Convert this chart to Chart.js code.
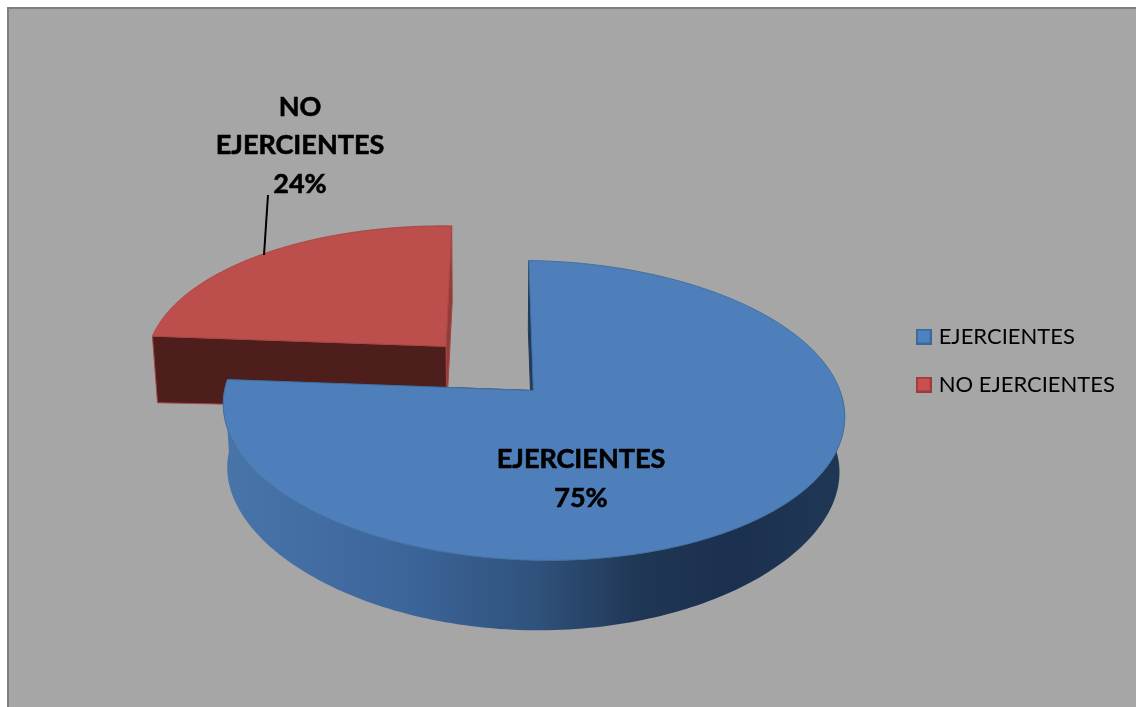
<!DOCTYPE html>
<html>
<head>
<meta charset="utf-8">
<script src="https://cdn.jsdelivr.net/npm/chart.js@4"></script>
<style>
  html, body { margin: 0; background: #fff; overflow: hidden; }
  #frame { position: absolute; left: 7px; top: 7px; width: 1129px; height: 700px; box-sizing: border-box;
           background: #a6a6a6; border-left: 2px solid #7f7f7f; border-top: 2px solid #7f7f7f; }
  #myChart { position: absolute; left: 0; top: 0; }
</style>
</head>
<body>
<div id="frame"></div>
<canvas id="myChart" width="1136" height="707"></canvas>
<script>
const categories = ["EJERCIENTES", "NO EJERCIENTES"];
const values = [75, 24];
const topColors = ["#4e7fbb", "#bc4f4c"];
const edgeColors = ["#41709f", "#a84643"];
const FONT = "Lato, 'Open Sans', sans-serif";

// legend squares have a darker rim, so they are small canvases
function marker(fill, rim) {
  const c = document.createElement("canvas");
  c.width = 16;
  c.height = 16;
  const g = c.getContext("2d");
  g.fillStyle = rim;
  g.fillRect(0, 0, 16, 16);
  g.fillStyle = fill;
  g.fillRect(2, 2, 12, 12);
  return c;
}
const markers = [marker("#4e81c0", "#3a6899"), marker("#c8504e", "#9c3b39")];

// Chart.js has no 3D pie, so the arcs are drawn through this projection
const pie3d = {
  id: "pie3d",
  afterLayout(chart, args, opts) {
    // legend sits above the pie's centre line in the reference
    const legend = chart.legend;
    legend.left += opts.legendShift[0];
    legend.right += opts.legendShift[0];
    legend.top += opts.legendShift[1];
    legend.bottom += opts.legendShift[1];
  },
  beforeDatasetDraw(chart, args, opts) {
    const arcs = chart.getDatasetMeta(0).data;
    const ctx = chart.ctx;
    ctx.save();
    ctx.lineJoin = "round";
    for (let i = arcs.length - 1; i >= 0; i--) {
      drawSlice(ctx, arcs[i], i, opts);
    }
    ctx.restore();
    drawLabels(ctx, opts);
    return false;
  },
};

function projector(arc, i, opts) {
  const R = arc.outerRadius;
  const mid = (arc.startAngle + arc.endAngle) / 2;
  const ou = Math.cos(mid) * opts.explode[i];
  const ov = Math.sin(mid) * opts.explode[i];
  return function (angle, radial, low) {
    const u = Math.cos(angle) * radial + ou;
    const v = Math.sin(angle) * radial + ov;
    const s = 1 / (1 - opts.persp * v);
    const x = arc.x + R * u * s + opts.shear * v * s;
    if (!low) return [x, arc.y + R * opts.flat * v * s + opts.roll * u * s];
    return [
      opts.vanish + (x - opts.vanish) * opts.lowScale,
      arc.y + opts.depth + (R * opts.lowFlat * v) / (1 - opts.lowPersp * v),
    ];
  };
}

function path(ctx, pts) {
  ctx.beginPath();
  pts.forEach((p, n) => (n ? ctx.lineTo(p[0], p[1]) : ctx.moveTo(p[0], p[1])));
  ctx.closePath();
}

function drawSlice(ctx, arc, i, opts) {
  const p = projector(arc, i, opts);
  const a0 = arc.startAngle;
  const a1 = arc.endAngle;
  const steps = 240;

  // cut faces
  const walls = opts.walls[i];
  [[a1, walls[1]], [a0, walls[0]]].forEach(([a, color]) => {
    path(ctx, [p(a, 0), p(a, 1), p(a, 1, true), p(a, 0, true)]);
    ctx.fillStyle = color;
    ctx.fill();
    ctx.strokeStyle = i ? edgeColors[i] : color;
    ctx.lineWidth = 1;
    ctx.stroke();
  });

  // outer rim, front half only
  const upper = [];
  const lower = [];
  for (let n = 0; n <= steps; n++) {
    const a = a0 + ((a1 - a0) * n) / steps;
    if (Math.sin(a) < 0) continue;
    upper.push(p(a, 1));
    lower.push(p(a, 1, true));
  }
  if (upper.length) {
    const grad = ctx.createLinearGradient(arc.x - 306, 0, arc.x + 306, 0);
    opts.rimStops.forEach(([t, c]) => grad.addColorStop(t, c));
    path(ctx, upper.concat(lower.reverse()));
    ctx.fillStyle = grad;
    ctx.fill();
  }

  // top face
  const top = [p(a0, 0)];
  for (let n = 0; n <= steps; n++) top.push(p(a0 + ((a1 - a0) * n) / steps, 1));
  path(ctx, top);
  ctx.fillStyle = topColors[i];
  ctx.fill();
  ctx.strokeStyle = edgeColors[i];
  ctx.lineWidth = 1;
  ctx.stroke();
}

function drawLabels(ctx, opts) {
  ctx.save();
  ctx.strokeStyle = "#000";
  ctx.lineWidth = 2;
  ctx.beginPath();
  ctx.moveTo(opts.leader[0], opts.leader[1]);
  ctx.lineTo(opts.leader[2], opts.leader[3]);
  ctx.stroke();
  ctx.fillStyle = "#000";
  ctx.lineWidth = 0.6;
  ctx.font = "bold " + opts.labelSize + "px " + FONT;
  ctx.textAlign = "center";
  ctx.textBaseline = "middle";
  opts.labels.forEach((lab, i) => {
    const lines = lab.lines.concat(values[i] + "%");
    lines.forEach((t, n) => {
      ctx.fillText(t, lab.x, lab.y + n * lab.step);
      ctx.strokeText(t, lab.x, lab.y + n * lab.step);
    });
  });
  ctx.restore();
}

const myChart = new Chart(document.getElementById("myChart"), {
  type: "pie",
  data: {
    labels: categories,
    datasets: [{ data: values, backgroundColor: topColors, radius: 308 }],
  },
  plugins: [pie3d],
  options: {
    responsive: false,
    animation: false,
    layout: { padding: { left: 162, top: 74, right: 0, bottom: 0 } },
    plugins: {
      tooltip: { enabled: false },
      legend: {
        position: "right",
        labels: {
          usePointStyle: true,
          pointStyleWidth: 8,
          padding: 26,
          color: "#000",
          font: { family: FONT, size: 22 },
          generateLabels: (chart) =>
            chart.data.labels.map((text, index) => ({
              text,
              index,
              pointStyle: markers[index],
              fontColor: "#000",
              hidden: false,
            })),
        },
      },
      pie3d: {
        legendShift: [-11, -30],
        explode: [0, 0.42],
        persp: 0.133,
        flat: 0.478,
        lowPersp: 0.2,
        lowFlat: 0.468,
        depth: 59.6,
        shear: 5,
        roll: 4,
        vanish: 490,
        lowScale: 0.985,
        walls: [["#1f3a5c", "#1f3a5c"], ["#4d1e1c", "#8f3d3a"]],
        rimStops: [[0, "#4874aa"], [0.3, "#3c659a"], [0.5, "#30527c"], [0.68, "#1f3654"], [0.82, "#1b304e"], [1, "#1f3755"]],
        labelSize: 27,
        labels: [
          { lines: ["EJERCIENTES"], x: 581, y: 459, step: 39 },
          { lines: ["NO", "EJERCIENTES"], x: 300, y: 107, step: 38.5 },
        ],
        leader: [268, 195, 264, 255],
      },
    },
  },
});
</script>
</body>
</html>
